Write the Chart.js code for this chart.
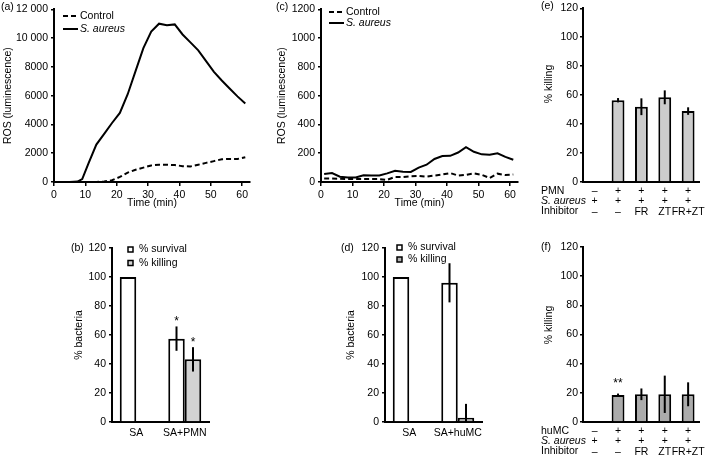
<!DOCTYPE html>
<html>
<head>
<meta charset="utf-8">
<script src="https://cdn.jsdelivr.net/npm/chart.js@4.4.1/dist/chart.umd.min.js"></script>
<style>
  body { margin: 0; background: #fff; }
  #wrap { position: relative; width: 709px; height: 459px; }
  #wrap canvas { position: absolute; left: 0; top: 0; }
</style>
</head>
<body>
<div id="wrap">
  <canvas id="chartA" width="709" height="459"></canvas>
  <canvas id="chartB" width="709" height="459"></canvas>
  <canvas id="chartC" width="709" height="459"></canvas>
  <canvas id="chartD" width="709" height="459"></canvas>
  <canvas id="chartE" width="709" height="459"></canvas>
  <canvas id="chartF" width="709" height="459"></canvas>
</div>
<script>
// (a) ROS, PMN
const timeA = [0, 2.5, 5, 7.5, 9, 11, 13.5, 16, 18.5, 21, 23.5, 26, 28.5, 31, 33.5, 36, 38.5, 41, 43.5, 46, 48.5, 51, 53.5, 56, 58.5, 61];
const controlA = [0, 0, 0, 0, 0, 0, 0, 30, 120, 350, 650, 850, 1000, 1150, 1200, 1200, 1180, 1100, 1080, 1200, 1330, 1450, 1580, 1600, 1600, 1720];
const aureusA = [0, 0, 0, 30, 200, 1300, 2600, 3350, 4100, 4800, 6100, 7700, 9300, 10450, 11000, 10900, 10950, 10250, 9700, 9150, 8400, 7650, 7050, 6500, 5950, 5450];

// (c) ROS, huMC
const timeC = [1, 3.5, 6, 8.5, 11, 13.5, 16, 18.5, 21, 23.5, 26, 28.5, 31, 33.5, 36, 38.5, 41, 43.5, 46, 48.5, 51, 53.5, 56, 58.5, 61];
const controlC = [25, 25, 22, 20, 20, 20, 20, 20, 15, 35, 35, 40, 42, 37, 45, 52, 62, 45, 50, 60, 50, 28, 58, 48, 52];
const aureusC = [55, 62, 37, 32, 32, 47, 45, 46, 60, 78, 72, 70, 100, 120, 160, 180, 182, 205, 242, 210, 192, 190, 200, 175, 155];

// (b) and (d) % bacteria
const catsB = ['SA', 'SA+PMN'];
const survivalB = [100, 57.5];
const survivalErrB = [0, 8.4];
const killingB = [null, 43.2];
const killingErrB = [0, 8.4];
const survivalStarsB = ['', '*'];
const killingStarsB = ['', '*'];

const catsD = ['SA', 'SA+huMC'];
const survivalD = [100, 96];
const survivalErrD = [0, 13.5];
const killingD = [null, 3];
const killingErrD = [0, 9.5];

// (e) and (f) % killing with inhibitors
const pmnRow = ['–', '+', '+', '+', '+'];
const huMCRow = ['–', '+', '+', '+', '+'];
const aureusRow = ['+', '+', '+', '+', '+'];
const inhibitorRow = ['–', '–', 'FR', 'ZT', 'FR+ZT'];
const killingE = [null, 56.5, 52, 58.5, 49];
const killingErrE = [0, 1.5, 5.8, 4.8, 2.6];
const killingF = [null, 18.5, 19, 19, 19];
const killingErrF = [0, 1, 4, 12.8, 8.2];
const starsF = ['', '**', '', '', ''];

const fontFamily = "'Liberation Sans', Arial, Helvetica, sans-serif";
const fontSize = 10.5;
Chart.defaults.font.family = fontFamily;
Chart.defaults.font.size = fontSize;
Chart.defaults.color = '#000';
Chart.defaults.animation = false;
Chart.defaults.events = [];
Chart.defaults.plugins.legend.display = false;
Chart.defaults.plugins.tooltip.enabled = false;

const errorBars = {
  id: 'errorBars',
  afterDatasetsDraw(chart, args, opts) {
    const ctx = chart.ctx;
    const yScale = chart.scales.y;
    const area = chart.chartArea;
    ctx.save();
    chart.data.datasets.forEach((ds, di) => {
      const meta = chart.getDatasetMeta(di);
      meta.data.forEach((bar, i) => {
        const v = ds.data[i];
        if (v == null) return;
        const e = ds.errors ? ds.errors[i] : 0;
        const top = yScale.getPixelForValue(v + e);
        if (e) {
          const bottom = Math.min(yScale.getPixelForValue(v - e), area.bottom);
          ctx.beginPath();
          ctx.strokeStyle = '#000';
          ctx.lineWidth = 2;
          ctx.moveTo(bar.x, top);
          ctx.lineTo(bar.x, bottom);
          ctx.stroke();
        }
        if (ds.stars && ds.stars[i]) {
          ctx.fillStyle = '#000';
          ctx.font = '12px ' + fontFamily;
          ctx.textAlign = 'center';
          ctx.textBaseline = 'alphabetic';
          ctx.fillText(ds.stars[i], bar.x, top - (opts.starLift || 0));
        }
      });
    });
    ctx.restore();
  }
};

const miniLegend = {
  id: 'miniLegend',
  afterDraw(chart, args, opts) {
    if (opts.x == null) return;
    const ctx = chart.ctx;
    ctx.save();
    chart.data.datasets.forEach((ds, i) => {
      const y = opts.y + i * opts.gap;
      if (opts.kind === 'line') {
        ctx.beginPath();
        ctx.strokeStyle = '#000';
        ctx.lineWidth = 2;
        ctx.setLineDash(ds.borderDash || []);
        ctx.moveTo(opts.x, y);
        ctx.lineTo(opts.x + 15, y);
        ctx.stroke();
        ctx.setLineDash([]);
      } else {
        ctx.fillStyle = ds.backgroundColor;
        ctx.fillRect(opts.x, y - 2.5, 5, 5);
        ctx.strokeStyle = '#000';
        ctx.lineWidth = 1.5;
        ctx.strokeRect(opts.x, y - 2.5, 5, 5);
      }
      ctx.fillStyle = '#000';
      ctx.font = (ds.italic ? 'italic ' : '') + fontSize + 'px ' + fontFamily;
      ctx.textAlign = 'left';
      ctx.textBaseline = 'middle';
      ctx.fillText(ds.label, opts.x + opts.textGap, y);
    });
    ctx.restore();
  }
};

const notes = {
  id: 'notes',
  afterDraw(chart, args, opts) {
    if (!opts.items) return;
    const ctx = chart.ctx;
    ctx.fillStyle = '#000';
    ctx.textBaseline = 'middle';
    opts.items.forEach(it => {
      ctx.save();
      ctx.font = (it.italic ? 'italic ' : '') + fontSize + 'px ' + fontFamily;
      if (it.rot) {
        ctx.translate(it.x, it.y);
        ctx.rotate(-Math.PI / 2);
        ctx.textAlign = 'center';
        ctx.fillText(it.text, 0, 0);
      } else {
        ctx.textAlign = 'left';
        ctx.fillText(it.text, it.x, it.y);
      }
      ctx.restore();
    });
  }
};

function yAxis(max, step, width, title, cb, pad) {
  return {
    min: 0, max: max,
    afterFit: s => { s.width = width; },
    border: { color: '#000', width: 2 },
    grid: { drawOnChartArea: false, color: '#000', lineWidth: 1.5, tickLength: 3 },
    ticks: { stepSize: step, color: '#000', padding: pad, callback: cb },
    title: { display: !!title, text: title, color: '#000', padding: { top: 2, bottom: 0 } }
  };
}

function timeAxis(height) {
  return {
    type: 'linear', min: 0, max: 62.5,
    afterFit: s => { s.height = height; },
    border: { color: '#000', width: 2 },
    grid: { drawOnChartArea: false, color: '#000', lineWidth: 1.5, tickLength: 4 },
    ticks: { stepSize: 10, includeBounds: false, color: '#000', padding: 3, callback: v => String(v) },
    title: { display: true, text: 'Time (min)', color: '#000', padding: { top: 0, bottom: 0 } }
  };
}

function catAxis(height, pad, lineHeight) {
  return {
    type: 'category',
    afterFit: s => { s.height = height; },
    border: { color: '#000', width: 2 },
    grid: { display: false, drawTicks: false },
    ticks: { color: '#000', padding: pad, autoSkip: false, maxRotation: 0, font: { size: fontSize, lineHeight: lineHeight } }
  };
}

function pts(xs, ys) {
  return xs.map((x, i) => ({ x: x, y: ys[i] }));
}

function rosChart(id, times, control, aureus, box, yMax, yStep, yW, yCb, legendPos, panelNote) {
  return new Chart(document.getElementById(id), {
    type: 'line',
    data: {
      datasets: [
        { label: 'Control', data: pts(times, control), borderColor: '#000', borderWidth: 2, borderDash: [5, 3], pointRadius: 0, tension: 0 },
        { label: 'S. aureus', italic: true, data: pts(times, aureus), borderColor: '#000', borderWidth: 2, pointRadius: 0, tension: 0 }
      ]
    },
    options: {
      responsive: false,
      layout: { padding: { left: box.L - yW, top: box.T, right: 709 - box.R, bottom: 459 - box.B - 27 } },
      scales: {
        x: timeAxis(27),
        y: yAxis(yMax, yStep, yW, 'ROS (luminescence)', yCb, 3)
      },
      plugins: {
        miniLegend: Object.assign({ kind: 'line', textGap: 17 }, legendPos),
        notes: { items: [panelNote] }
      }
    },
    plugins: [miniLegend, notes]
  });
}

const fmtThousands = v => v >= 10000 ? Math.floor(v / 1000) + ' ' + String(v % 1000).padStart(3, '0') : String(v);

rosChart('chartA', timeA, controlA, aureusA, { L: 54, R: 250, T: 7, B: 182 }, 12000, 2000, 54, fmtThousands,
  { x: 63, y: 16, gap: 13 }, { text: '(a)', x: 1, y: 7 });
rosChart('chartC', timeC, controlC, aureusC, { L: 321, R: 518, T: 7, B: 182 }, 1200, 200, 47, v => String(v),
  { x: 329, y: 12, gap: 11 }, { text: '(c)', x: 276, y: 7 });

function bacteriaChart(id, cats, surv, survErr, survStars, kill, killErr, killStars, killColor, box, yW, legendPos, panelNote) {
  return new Chart(document.getElementById(id), {
    type: 'bar',
    data: {
      labels: cats,
      datasets: [
        { label: '% survival', data: surv, errors: survErr, stars: survStars, backgroundColor: '#fff', borderColor: '#000', borderWidth: 2, borderSkipped: 'start', categoryPercentage: 0.68, barPercentage: 1 },
        { label: '% killing', data: kill, errors: killErr, stars: killStars, backgroundColor: killColor, borderColor: '#000', borderWidth: 2, borderSkipped: 'start', categoryPercentage: 0.68, barPercentage: 1 }
      ]
    },
    options: {
      responsive: false,
      layout: { padding: { left: box.L - yW, top: box.T, right: 709 - box.R, bottom: 459 - box.B - 20 } },
      scales: {
        x: catAxis(20, 5, 1.2),
        y: yAxis(120, 20, yW, '% bacteria', v => String(v), 3)
      },
      plugins: {
        errorBars: { starLift: 1 },
        miniLegend: Object.assign({ kind: 'box', textGap: 11 }, legendPos),
        notes: { items: [panelNote] }
      }
    },
    plugins: [errorBars, miniLegend, notes]
  });
}

bacteriaChart('chartB', catsB, survivalB, survivalErrB, survivalStarsB, killingB, killingErrB, killingStarsB, '#d2d2d2',
  { L: 112, R: 209, T: 248, B: 422 }, 41, { x: 128, y: 249.5, gap: 13.5 }, { text: '(b)', x: 71, y: 248 });
bacteriaChart('chartD', catsD, survivalD, survivalErrD, null, killingD, killingErrD, null, '#b4b4b4',
  { L: 385, R: 482, T: 248, B: 422 }, 42, { x: 397, y: 247.5, gap: 12 }, { text: '(d)', x: 341, y: 248 });

function killingChart(id, topRow, values, errs, stars, color, box, rowHead, panelNote, starLift) {
  const labels = topRow.map((t, i) => [t, aureusRow[i], inhibitorRow[i]]);
  const headY = box.B + 9;
  return new Chart(document.getElementById(id), {
    type: 'bar',
    data: {
      labels: labels,
      datasets: [
        { label: '% killing', data: values, errors: errs, stars: stars, backgroundColor: color, borderColor: '#000', borderWidth: 2, borderSkipped: 'start', categoryPercentage: 1, barPercentage: 0.55 }
      ]
    },
    options: {
      responsive: false,
      layout: { padding: { left: box.L - 42, top: box.T, right: 709 - box.R, bottom: 459 - box.B - 35 } },
      scales: {
        x: catAxis(35, 4, 0.98),
        y: yAxis(120, 20, 42, '', v => String(v), 2)
      },
      plugins: {
        errorBars: { starLift: starLift },
        notes: { items: [
          panelNote,
          { text: '% killing', rot: true, x: 549, y: box.T + 78 },
          { text: rowHead, x: 541, y: headY },
          { text: 'S. aureus', italic: true, x: 541, y: headY + 10.3 },
          { text: 'Inhibitor', x: 541, y: headY + 20.6 }
        ] }
      }
    },
    plugins: [errorBars, notes]
  });
}

killingChart('chartE', pmnRow, killingE, killingErrE, null, '#cccccc', { L: 583, R: 705, T: 6, B: 182 }, 'PMN', { text: '(e)', x: 541, y: 6 }, 1);
killingChart('chartF', huMCRow, killingF, killingErrF, starsF, '#ababab', { L: 583, R: 705, T: 247, B: 422 }, 'huMC', { text: '(f)', x: 541, y: 247 }, 7);
</script>
</body>
</html>
